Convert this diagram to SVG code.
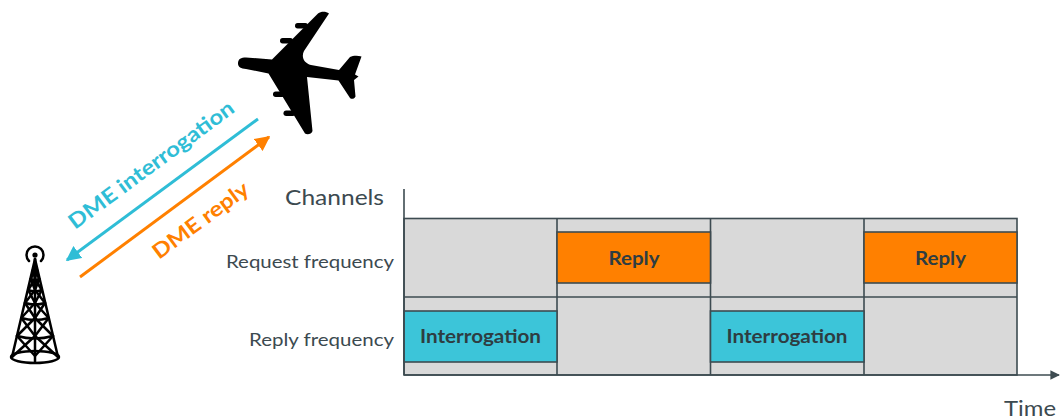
<svg xmlns="http://www.w3.org/2000/svg" width="1060" height="420" viewBox="0 0 1060 420">
  <defs>
    <style>
      .cell { fill: #d9d9d9; stroke: #3d4b51; stroke-width: 1.6; }
      .reply { fill: #ff8000; stroke: #3d4b51; stroke-width: 1.6; }
      .interr { fill: #3cc5d9; stroke: #3d4b51; stroke-width: 1.6; }
      .grid { stroke: #3d4b51; stroke-width: 1.6; fill: none; }
      .axis { stroke: #3d4b51; stroke-width: 1.6; fill: none; }
      .box-label { font-family: Lato, "Open Sans", sans-serif; font-weight: 700; font-size: 18.5px; fill: #2e3d42; text-anchor: middle; }
      .row-label { font-family: Lato, "Open Sans", sans-serif; font-size: 17px; fill: #3c4a50; text-anchor: end; }
      .title { font-family: Lato, "Open Sans", sans-serif; font-size: 21px; fill: #3c4a50; }
      .link-label { font-family: Lato, "Open Sans", sans-serif; font-weight: 700; font-size: 21px; }
      .tower line, .tower path { stroke: #000; stroke-width: 2.5; fill: none; stroke-linecap: round; stroke-linejoin: round; }
    </style>
    <marker id="head-cyan" viewBox="0 0 10 10" refX="9" refY="5" markerWidth="5" markerHeight="5" orient="auto">
      <path d="M0,0 L10,5 L0,10 z" fill="#2fbdd6"/>
    </marker>
    <marker id="head-orange" viewBox="0 0 10 10" refX="9" refY="5" markerWidth="5" markerHeight="5" orient="auto">
      <path d="M0,0 L10,5 L0,10 z" fill="#ff8000"/>
    </marker>
    <marker id="head-axis" viewBox="0 0 10 10" refX="9" refY="5" markerWidth="6" markerHeight="6" orient="auto">
      <path d="M0,0 L10,5 L0,10 z" fill="#3d4b51"/>
    </marker>
  </defs>

  <rect width="1060" height="420" fill="#ffffff"/>

  <!-- aircraft silhouette, four-engine airliner seen from above -->
  <g id="aircraft" fill="#000">
    <path d="M238,63.5 C238,59 241,57.5 246,57.5 L272,59.5 L318,13.5 C321,11 326,11 329,13.5 L304,51 C301,57 304,63 311,65 L339,70 L350,57 C353,55.5 358,55.5 361.5,56.5 L355,74.5 L358.5,76.5 L354,80 L355.5,96.5 C354.5,99 351.5,99.5 350,98 L338.5,80.5 L307,77 L312.5,131 C311.5,134.5 307,135 305,133.5 L268.5,73.5 L246,69 C241,68.5 238,67 238,63.5 Z"/>
    <rect x="280" y="38" width="13" height="5.5" rx="2.7"/>
    <rect x="295" y="23" width="13" height="5.5" rx="2.7"/>
    <rect x="273" y="91.5" width="12" height="5.5" rx="2.7"/>
    <rect x="283.5" y="110.5" width="12" height="5.5" rx="2.7"/>
  </g>

  <!-- radio tower -->
  <g id="tower" class="tower">
    <circle cx="35" cy="255" r="2.6"/>
    <path d="M29,261 A8.5,8.5 0 1 1 41,261"/>
    <line x1="35" y1="259" x2="12" y2="357"/>
    <line x1="35" y1="259" x2="58" y2="357"/>
    <line x1="35" y1="259" x2="35" y2="362"/>
    <path d="M11,357 A24,6 0 0 0 59,357 A24,6 0 0 0 11,357"/>
    <path d="M33,270 Q35,271 37,270 M30.8,279 Q35,281 39.2,279 M28.2,290 Q35,292.5 41.8,290 M25,303 Q35,306 45,303 M21.3,318 Q35,322 48.7,318 M17,336 Q35,341 53,336"/>
    <path d="M33,270 L35,279 L37,270 M30.8,279 L35,290 L39.2,279 M28.2,290 L35,303 L41.8,290 M25,303 L35,318 L45,303 M21.3,318 L35,336 L48.7,318 M17,336 L35,356 L53,336"/>
    <path d="M35,270 L30.8,279 M35,270 L39.2,279 M35,279 L28.2,290 M35,279 L41.8,290 M35,290 L25,303 M35,290 L45,303 M35,303 L21.3,318 M35,303 L48.7,318 M35,318 L17,336 M35,318 L53,336 M35,336 L12,357 M35,336 L58,357"/>
  </g>

  <!-- signal links between aircraft and ground station -->
  <g id="links">
    <line x1="258" y1="119" x2="67" y2="260" stroke="#2fbdd6" stroke-width="3" marker-end="url(#head-cyan)"/>
    <line x1="80" y1="277" x2="269" y2="137" stroke="#ff8000" stroke-width="3" marker-end="url(#head-orange)"/>
    <text class="link-label" fill="#2fbdd6" transform="translate(75,230) rotate(-36.4)" textLength="200" lengthAdjust="spacingAndGlyphs">DME interrogation</text>
    <text class="link-label" fill="#ff8000" transform="translate(159,260) rotate(-36.4)" textLength="114" lengthAdjust="spacingAndGlyphs">DME reply</text>
  </g>

  <!-- channel / time chart -->
  <g id="chart-labels">
    <text class="title" x="285" y="205" textLength="99" lengthAdjust="spacingAndGlyphs">Channels</text>
    <text class="row-label" x="394" y="268" textLength="168" lengthAdjust="spacingAndGlyphs">Request frequency</text>
    <text class="row-label" x="394" y="346" textLength="145" lengthAdjust="spacingAndGlyphs">Reply frequency</text>
    <text class="title" x="1004" y="416" textLength="52" lengthAdjust="spacingAndGlyphs">Time</text>
  </g>

  <g id="grid">
    <rect class="cell" x="404" y="218.5" width="613" height="156.5"/>
    <line class="grid" x1="404" y1="297" x2="1017" y2="297"/>
    <line class="grid" x1="557" y1="218.5" x2="557" y2="375"/>
    <line class="grid" x1="710.5" y1="218.5" x2="710.5" y2="375"/>
    <line class="grid" x1="864" y1="218.5" x2="864" y2="375"/>
  </g>

  <g id="slot-reply-1">
    <rect class="reply" x="557" y="232" width="153.5" height="51"/>
    <text class="box-label" x="634" y="265" textLength="51" lengthAdjust="spacingAndGlyphs">Reply</text>
  </g>
  <g id="slot-reply-2">
    <rect class="reply" x="864" y="232" width="153" height="51"/>
    <text class="box-label" x="940.5" y="265" textLength="51" lengthAdjust="spacingAndGlyphs">Reply</text>
  </g>
  <g id="slot-interrogation-1">
    <rect class="interr" x="404" y="311" width="153" height="51"/>
    <text class="box-label" x="480.5" y="343" textLength="121" lengthAdjust="spacingAndGlyphs">Interrogation</text>
  </g>
  <g id="slot-interrogation-2">
    <rect class="interr" x="710.5" y="311" width="153.5" height="51"/>
    <text class="box-label" x="787" y="343" textLength="121" lengthAdjust="spacingAndGlyphs">Interrogation</text>
  </g>

  <g id="axes">
    <line class="axis" x1="404" y1="189" x2="404" y2="375"/>
    <line class="axis" x1="404" y1="375" x2="1059" y2="375" marker-end="url(#head-axis)"/>
  </g>
</svg>
